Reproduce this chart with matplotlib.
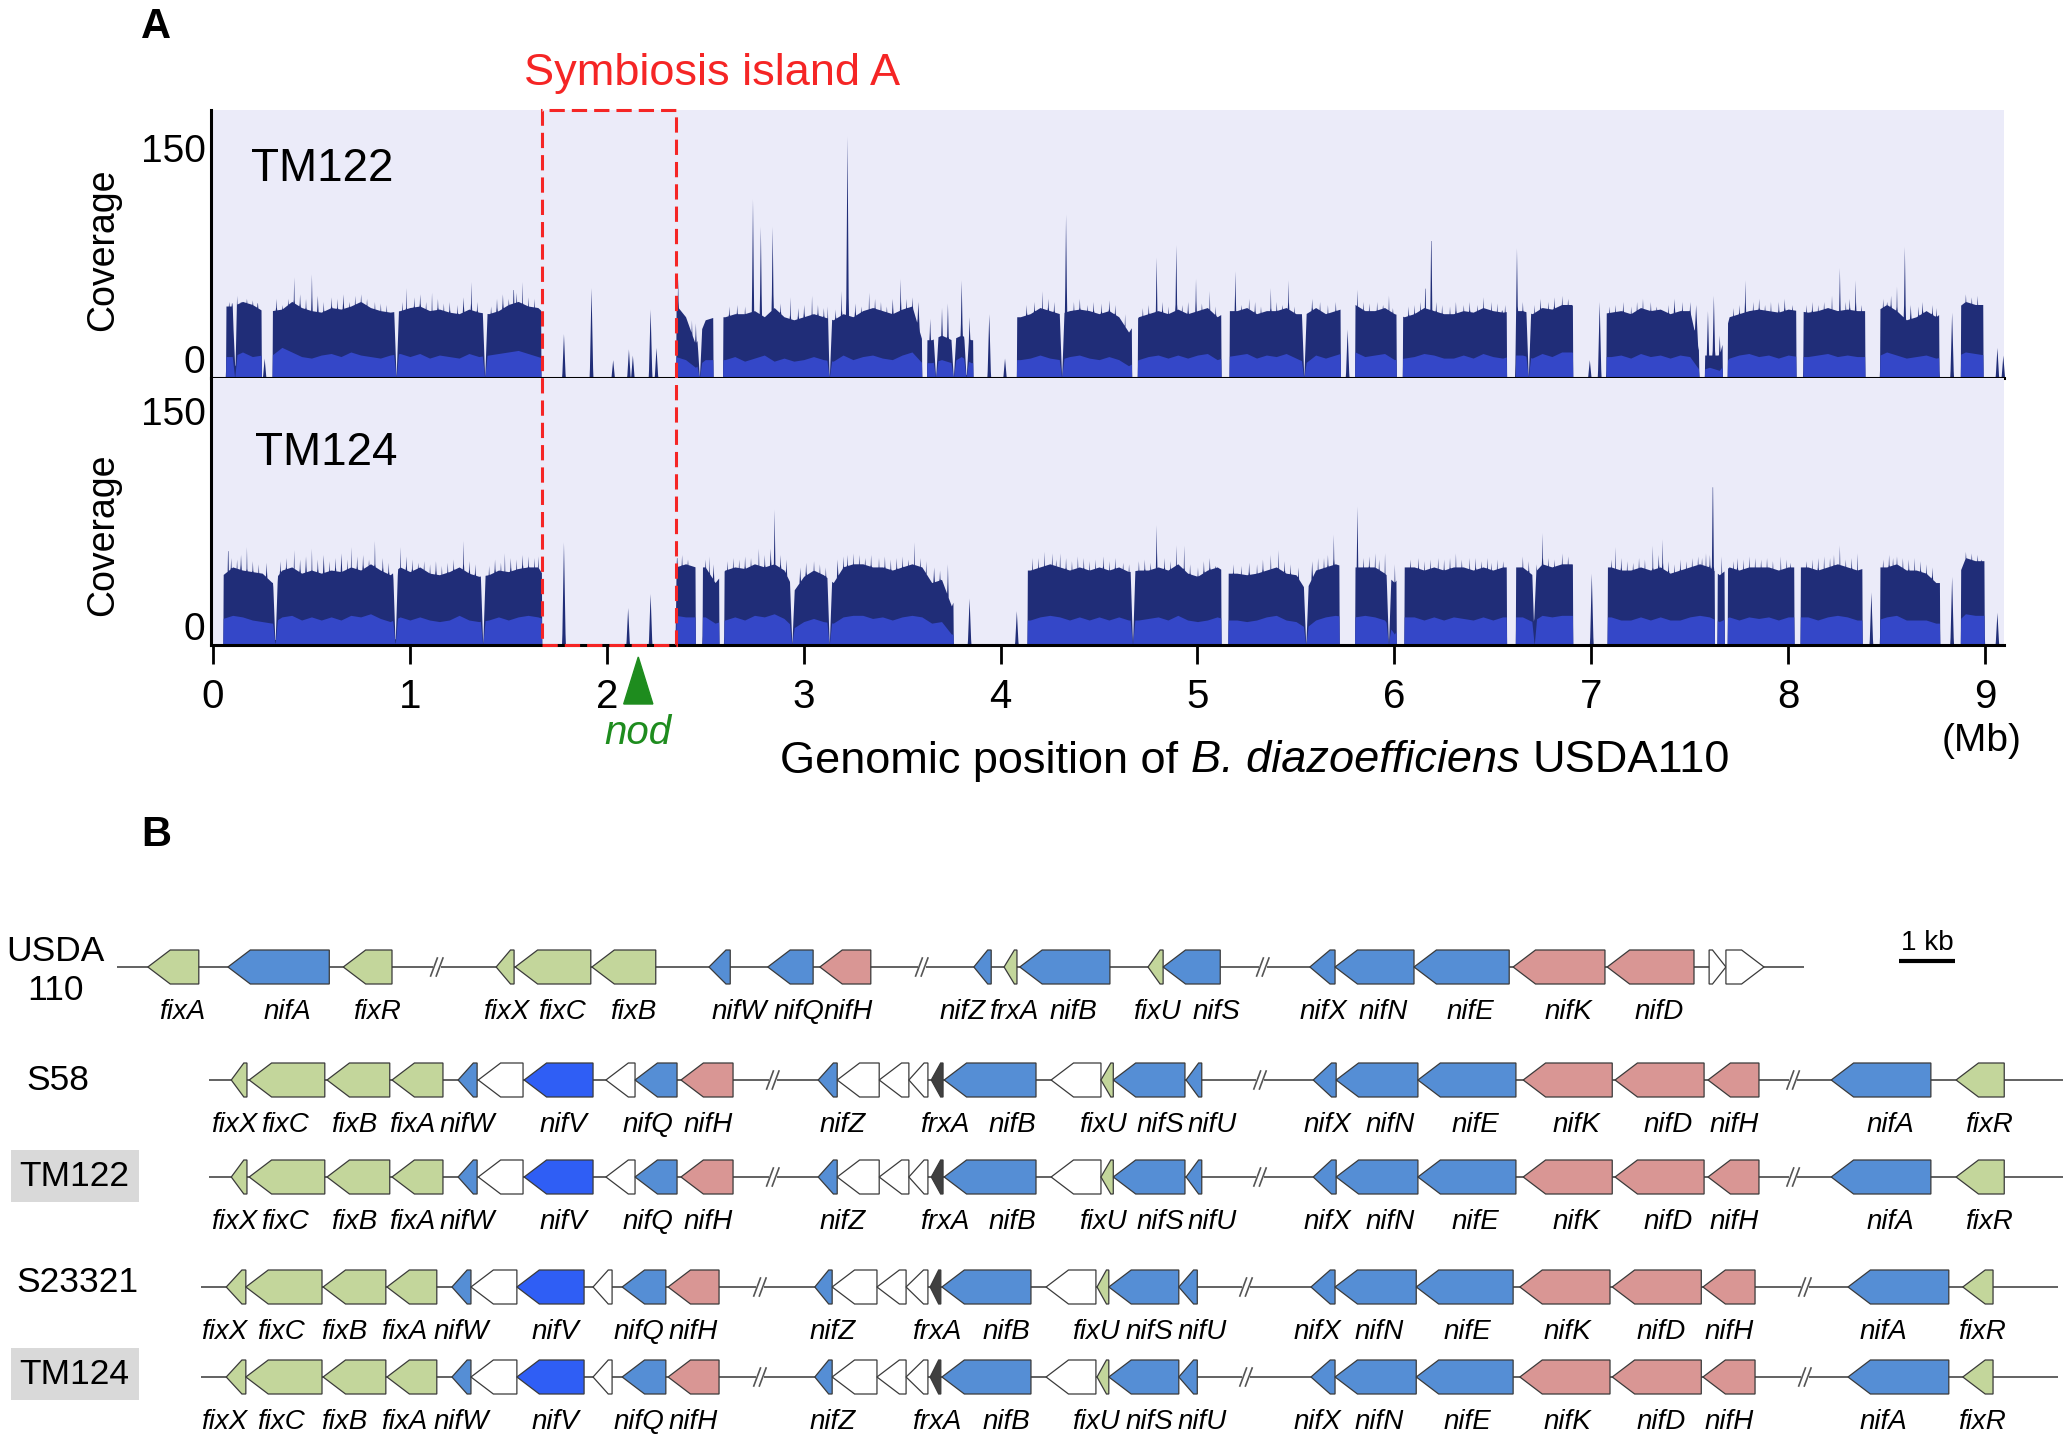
"""
Coverage of symbiosis island A + nif/fix gene clusters
"""

# IMPORTS

import numpy as np
import matplotlib
matplotlib.use("Agg")
import matplotlib.pyplot as plt
from matplotlib.patches import Polygon, Rectangle
from matplotlib.transforms import blended_transform_factory, ScaledTranslation

plt.rcParams['font.family'] = ['Liberation Sans', 'DejaVu Sans']


# DATA : PANEL A (coverage, Mb grid of 0.05)

GRID = np.round(np.arange(183) * 0.05, 2)

TM122_BASE = [
    47, 47, 47, 50, 48, 44, 44, 45, 50, 46, 44, 43, 46, 45, 47, 50, 46, 44, 43, 44,
    46, 47, 44, 45, 43, 42, 45, 43, 42, 44, 48, 50, 47, 46, 40, 40, 40, 40, 40, 40,
    40, 40, 40, 40, 40, 40, 40, 48, 40, 22, 38, 40, 40, 42, 42, 44, 40, 46, 40, 38,
    40, 42, 40, 38, 42, 40, 44, 46, 44, 42, 45, 47, 25, 25, 28, 25, 28, 25, 25, 25,
    40, 40, 40, 42, 46, 44, 42, 44, 45, 44, 42, 44, 40, 30, 40, 42, 44, 42, 45, 42,
    44, 46, 40, 44, 44, 46, 42, 44, 44, 46, 42, 42, 46, 42, 44, 46, 48, 44, 44, 46,
    42, 40, 42, 46, 44, 42, 42, 44, 43, 46, 44, 43, 44, 44, 42, 46, 45, 48, 48, 40,
    42, 42, 43, 44, 42, 46, 44, 45, 42, 44, 44, 15, 15, 15, 40, 42, 44, 45, 44, 43,
    45, 44, 43, 44, 46, 44, 45, 44, 44, 44, 48, 44, 38, 40, 44, 40, 45, 45, 50, 48,
    48, 48, 48,
]
TM122_INNER = [
    14, 14, 14, 17, 14, 15, 15, 20, 17, 14, 13, 15, 16, 14, 17, 15, 14, 13, 15, 16,
    14, 16, 13, 15, 14, 13, 16, 14, 15, 16, 17, 18, 16, 14, 12, 12, 12, 12, 12, 12,
    12, 12, 12, 12, 12, 12, 12, 14, 12, 7, 12, 12, 12, 14, 11, 13, 15, 11, 13, 11,
    12, 14, 12, 11, 15, 12, 14, 15, 13, 12, 15, 17, 10, 10, 12, 10, 14, 10, 10, 10,
    12, 12, 12, 13, 15, 13, 12, 14, 15, 13, 12, 14, 12, 8, 12, 14, 15, 13, 15, 13,
    15, 16, 12, 14, 15, 16, 13, 15, 14, 16, 13, 10, 15, 13, 15, 17, 17, 14, 15, 16,
    12, 13, 14, 16, 15, 13, 13, 15, 13, 16, 14, 13, 15, 15, 13, 16, 14, 17, 17, 14,
    14, 14, 14, 15, 13, 16, 14, 15, 13, 15, 14, 5, 7, 5, 13, 15, 16, 14, 15, 13,
    15, 14, 14, 15, 16, 14, 15, 14, 14, 14, 17, 15, 13, 14, 15, 13, 14, 14, 17, 16,
    15, 15, 15,
]
TM122_GAPS = [(-0.02, 0.064), (0.245, 0.30), (1.665, 2.35), (2.54, 2.59), (3.60, 3.625),
              (3.86, 4.08), (4.665, 4.695), (5.12, 5.16), (5.725, 5.80), (6.01, 6.04),
              (6.57, 6.615), (6.905, 7.075), (7.545, 7.575), (7.665, 7.69), (8.04, 8.075),
              (8.39, 8.465), (8.765, 8.875), (8.99, 9.2)]
TM122_DIPS = [0.11, 0.93, 1.38, 2.47, 3.13, 3.67, 3.76, 3.825, 4.31, 5.54, 6.68]
TM122_SPIKES = [(0.12, 54), (0.26, 13), (0.38, 52), (0.41, 66), (0.50, 68), (0.72, 54),
                (0.98, 59), (1.11, 56), (1.31, 63), (1.525, 65), (1.57, 63), (1.78, 29),
                (1.92, 59), (2.03, 12), (2.11, 19), (2.13, 15), (2.22, 45), (2.25, 20),
                (2.36, 65), (2.43, 38), (2.45, 36), (2.74, 117), (2.78, 99), (2.84, 99),
                (2.93, 53), (3.04, 54), (3.12, 47), (3.19, 57), (3.22, 158), (3.33, 56),
                (3.49, 65), (3.64, 39), (3.70, 46), (3.73, 49), (3.80, 64), (3.84, 40),
                (3.94, 42), (4.02, 13), (4.09, 35), (4.21, 57), (4.33, 107), (4.61, 38),
                (4.63, 42), (4.79, 79), (4.89, 87), (4.99, 65), (5.06, 57), (5.19, 70),
                (5.26, 52), (5.37, 59), (5.46, 64), (5.76, 32), (5.81, 58), (5.97, 54),
                (6.155, 66), (6.185, 101), (6.45, 53), (6.56, 48), (6.62, 85), (6.99, 12),
                (7.04, 50), (7.26, 52), (7.59, 44), (7.62, 54), (7.65, 28), (7.78, 64),
                (7.91, 50), (8.22, 54), (8.26, 72), (8.34, 64), (8.50, 50), (8.55, 60),
                (8.59, 86), (8.83, 43), (9.06, 20), (9.09, 15)]
TM122_PEAKS = [(0.08, 50), (0.095, 52), (0.14, 50), (0.17, 52), (0.20, 51), (0.225, 52),
               (0.32, 52), (0.35, 48), (0.44, 55), (0.47, 52), (0.53, 54), (0.56, 50),
               (0.60, 53), (0.63, 52), (0.66, 55), (0.69, 50), (0.75, 55), (0.78, 52),
               (0.82, 50), (0.85, 49), (0.88, 48), (0.96, 50), (1.02, 53), (1.05, 55),
               (1.08, 50), (1.14, 52), (1.17, 49), (1.20, 50), (1.24, 48), (1.27, 53),
               (1.34, 50), (1.41, 47), (1.44, 52), (1.47, 55), (1.50, 52), (1.54, 56),
               (1.60, 53), (1.63, 52), (2.62, 47), (2.66, 48), (2.70, 47), (2.88, 49),
               (2.97, 46), (3.00, 48), (3.07, 48), (3.10, 46), (3.16, 45), (3.26, 49),
               (3.29, 47), (3.36, 52), (3.39, 50), (3.42, 47), (3.45, 52), (3.52, 52),
               (3.55, 53), (3.58, 50), (4.13, 48), (4.17, 50), (4.24, 52), (4.27, 50),
               (4.37, 50), (4.40, 52), (4.44, 48), (4.47, 50), (4.51, 49), (4.55, 51),
               (4.58, 48), (4.72, 46), (4.75, 48), (4.82, 50), (4.85, 47), (4.92, 48),
               (4.95, 50), (5.02, 49), (5.09, 47), (5.22, 48), (5.29, 50), (5.32, 47),
               (5.40, 50), (5.43, 48), (5.49, 47), (5.58, 52), (5.62, 50), (5.66, 48),
               (5.70, 50), (5.84, 50), (5.87, 49), (5.91, 50), (5.94, 48), (5.99, 46),
               (6.07, 47), (6.10, 48), (6.13, 50), (6.21, 50), (6.24, 48), (6.28, 47),
               (6.31, 50), (6.35, 48), (6.38, 50), (6.42, 48), (6.49, 50), (6.52, 49),
               (6.545, 47), (6.65, 50), (6.71, 48), (6.74, 52), (6.78, 50), (6.81, 53),
               (6.85, 54), (6.88, 52), (7.09, 47), (7.12, 48), (7.16, 50), (7.20, 47),
               (7.23, 50), (7.30, 50), (7.33, 47), (7.39, 48), (7.42, 52), (7.46, 50),
               (7.50, 50), (7.53, 48), (7.72, 46), (7.75, 48), (7.82, 50), (7.85, 52),
               (7.88, 48), (7.95, 50), (7.98, 52), (8.02, 48), (8.09, 48), (8.12, 50),
               (8.15, 48), (8.18, 50), (8.29, 50), (8.31, 52), (8.37, 48), (8.48, 52),
               (8.52, 54), (8.62, 48), (8.66, 47), (8.68, 50), (8.73, 48), (8.75, 46),
               (8.90, 55), (8.93, 53), (8.96, 54)]

TM124_BASE = [
    45, 45, 50, 48, 47, 46, 40, 48, 50, 46, 48, 46, 48, 47, 50, 48, 52, 48, 45, 50,
    47, 50, 46, 45, 47, 50, 46, 44, 45, 48, 47, 49, 50, 50, 40, 40, 40, 40, 40, 40,
    40, 40, 40, 40, 40, 40, 40, 50, 52, 50, 50, 40, 48, 50, 49, 52, 50, 52, 48, 35,
    44, 48, 45, 40, 50, 52, 52, 50, 50, 48, 50, 52, 50, 40, 42, 25, 40, 40, 40, 40,
    40, 40, 48, 48, 50, 52, 50, 48, 50, 48, 50, 48, 50, 47, 48, 48, 50, 48, 52, 46,
    44, 48, 50, 46, 46, 45, 46, 48, 50, 46, 45, 35, 48, 50, 52, 50, 50, 50, 50, 46,
    40, 50, 50, 48, 50, 48, 50, 50, 48, 50, 48, 50, 50, 50, 45, 52, 50, 52, 52, 50,
    50, 50, 50, 48, 48, 50, 48, 50, 46, 48, 50, 52, 50, 45, 50, 48, 50, 50, 50, 48,
    50, 50, 50, 48, 50, 52, 50, 48, 50, 50, 50, 52, 48, 48, 46, 40, 40, 40, 56, 54,
    54, 54, 54,
]
TM124_INNER = [
    17, 17, 19, 18, 16, 15, 14, 18, 19, 16, 18, 16, 18, 16, 19, 18, 20, 17, 15, 18,
    16, 18, 16, 15, 16, 19, 16, 15, 16, 18, 16, 18, 19, 18, 16, 16, 16, 16, 16, 16,
    16, 16, 16, 16, 16, 16, 16, 19, 18, 18, 18, 14, 16, 18, 16, 19, 18, 20, 17, 11,
    15, 17, 15, 14, 18, 19, 19, 17, 18, 16, 18, 19, 18, 14, 15, 7, 7, 7, 7, 7,
    16, 16, 16, 16, 18, 19, 18, 16, 18, 16, 18, 16, 18, 16, 16, 17, 18, 16, 19, 16,
    15, 16, 18, 16, 16, 15, 16, 18, 19, 16, 15, 11, 16, 18, 19, 18, 18, 19, 18, 16,
    7, 18, 18, 16, 18, 16, 18, 17, 16, 18, 16, 18, 18, 18, 15, 19, 18, 19, 19, 18,
    18, 18, 18, 16, 16, 18, 16, 18, 16, 16, 18, 19, 18, 15, 18, 16, 18, 17, 18, 16,
    18, 18, 18, 16, 18, 19, 18, 16, 16, 16, 18, 19, 16, 16, 16, 14, 14, 14, 20, 19,
    19, 19, 19,
]
TM124_GAPS = [(-0.02, 0.05), (1.67, 2.35), (2.45, 2.485), (2.57, 2.595), (3.76, 4.135),
              (5.12, 5.155), (5.72, 5.80), (6.01, 6.05), (6.57, 6.615), (6.905, 7.08),
              (7.625, 7.64), (7.675, 7.69), (8.03, 8.06), (8.375, 8.465), (8.77, 8.875),
              (8.995, 9.2)]
TM124_DIPS = [0.315, 0.925, 1.37, 2.94, 3.13, 4.67, 5.55, 5.97, 6.71, 8.78]
TM124_SPIKES = [(0.075, 68), (0.17, 63), (0.41, 61), (0.50, 62), (0.70, 63), (0.82, 67),
                (0.95, 63), (1.07, 54), (1.27, 67), (1.48, 59), (1.65, 57), (1.78, 66),
                (2.106, 24), (2.22, 33), (2.355, 63), (2.52, 57), (2.77, 62), (2.85, 87),
                (3.05, 54), (3.25, 59), (3.56, 66), (3.62, 54), (3.73, 52), (3.84, 30),
                (4.08, 22), (4.16, 56), (4.22, 60), (4.26, 59), (4.30, 59), (4.39, 57),
                (4.62, 53), (4.79, 77), (4.89, 64), (4.93, 64), (5.09, 51), (5.37, 58),
                (5.41, 61), (5.61, 56), (5.69, 71), (5.81, 89), (5.90, 59), (5.95, 59),
                (6.00, 52), (6.22, 56), (6.31, 59), (6.38, 56), (6.52, 55), (6.65, 57),
                (6.75, 72), (6.85, 59), (7.00, 46), (7.12, 63), (7.31, 64), (7.36, 68),
                (7.51, 56), (7.58, 59), (7.615, 114), (7.66, 57), (7.80, 57), (7.96, 57),
                (8.18, 57), (8.26, 64), (8.35, 59), (8.42, 34), (8.55, 57), (8.64, 56),
                (8.83, 44), (9.06, 21)]
TM124_PEAKS = [(0.09, 56), (0.12, 55), (0.14, 58), (0.20, 54), (0.23, 52), (0.27, 53),
               (0.34, 54), (0.37, 56), (0.44, 55), (0.47, 57), (0.53, 55), (0.56, 58),
               (0.59, 54), (0.62, 56), (0.65, 59), (0.68, 55), (0.73, 57), (0.76, 58),
               (0.79, 55), (0.86, 56), (0.89, 53), (0.98, 57), (1.01, 55), (1.04, 53),
               (1.10, 52), (1.13, 54), (1.16, 51), (1.19, 53), (1.22, 55), (1.30, 54),
               (1.33, 52), (1.40, 51), (1.43, 55), (1.46, 53), (1.51, 56), (1.54, 55),
               (1.57, 58), (1.60, 57), (1.63, 56), (2.38, 58), (2.41, 55), (2.50, 55),
               (2.54, 52), (2.61, 54), (2.64, 56), (2.67, 55), (2.70, 57), (2.73, 56),
               (2.80, 58), (2.83, 62), (2.88, 58), (2.91, 55), (2.98, 50), (3.01, 53),
               (3.08, 52), (3.11, 50), (3.17, 55), (3.20, 57), (3.22, 58), (3.28, 58),
               (3.31, 56), (3.34, 58), (3.38, 56), (3.41, 57), (3.44, 55), (3.47, 56),
               (3.50, 57), (3.53, 55), (3.59, 56), (3.66, 50), (3.69, 48), (4.19, 56),
               (4.28, 55), (4.33, 56), (4.36, 54), (4.42, 56), (4.45, 54), (4.48, 55),
               (4.52, 57), (4.55, 54), (4.58, 56), (4.65, 52), (4.70, 54), (4.73, 55),
               (4.76, 53), (4.83, 56), (4.86, 54), (4.96, 52), (5.00, 50), (5.03, 54),
               (5.06, 56), (5.18, 52), (5.22, 51), (5.26, 53), (5.30, 52), (5.33, 55),
               (5.44, 54), (5.47, 52), (5.51, 50), (5.58, 54), (5.64, 56), (5.66, 58),
               (5.84, 56), (5.87, 57), (5.92, 55), (6.08, 55), (6.12, 56), (6.15, 54),
               (6.18, 55), (6.25, 55), (6.28, 56), (6.34, 55), (6.41, 56), (6.44, 54),
               (6.47, 56), (6.49, 53), (6.55, 54), (6.68, 54), (6.72, 52), (6.78, 56),
               (6.81, 55), (6.88, 57), (7.10, 55), (7.15, 56), (7.18, 54), (7.21, 53),
               (7.24, 56), (7.27, 55), (7.34, 58), (7.39, 54), (7.42, 52), (7.45, 55),
               (7.48, 54), (7.54, 57), (7.56, 56), (7.60, 58), (7.72, 54), (7.74, 56),
               (7.77, 55), (7.83, 56), (7.86, 55), (7.89, 56), (7.92, 54), (7.99, 55),
               (8.01, 53), (8.09, 54), (8.12, 55), (8.15, 56), (8.21, 56), (8.23, 58),
               (8.29, 55), (8.32, 56), (8.48, 55), (8.51, 58), (8.53, 56), (8.58, 56),
               (8.61, 55), (8.67, 54), (8.70, 52), (8.73, 50), (8.90, 60), (8.93, 59),
               (8.96, 58), (8.98, 55)]

ISLAND = (1.67, 2.35)
NOD_POS = 2.16


# DATA : PANEL B (genes in kb: name, start, end, kind[, strand])

USDA110 = [
    ('fixA', 2.64, 3.55, 'fix'), ('nifA', 4.07, 5.88, 'nif'), ('fixR', 6.13, 7.00, 'fix'),
    ('fixX', 8.86, 9.18, 'fix'), ('fixC', 9.20, 10.55, 'fix'), ('fixB', 10.57, 11.71, 'fix'),
    ('nifW', 12.66, 13.04, 'nif'), ('nifQ', 13.71, 14.52, 'nif'), ('nifH', 14.64, 15.55, 'hdk'),
    ('nifZ', 17.39, 17.70, 'nif'), ('frxA', 17.93, 18.16, 'fix'), ('nifB', 18.21, 19.82, 'nif'),
    ('fixU', 20.50, 20.77, 'fix'), ('nifS', 20.77, 21.79, 'nif'),
    ('nifX', 23.39, 23.84, 'nif'), ('nifN', 23.84, 25.25, 'nif'), ('nifE', 25.25, 26.95, 'nif'),
    ('nifK', 27.02, 28.66, 'hdk'), ('nifD', 28.70, 30.25, 'hdk'),
    ('', 30.52, 30.82, 'other', 1), ('', 30.82, 31.50, 'other', 1),
]
USDA110_LINE = (2.09, 32.21)
USDA110_BREAKS = [7.80, 16.46, 22.55]

S58 = [
    ('fixX', 4.13, 4.41, 'fix'), ('fixC', 4.45, 5.80, 'fix'), ('fixB', 5.84, 6.96, 'fix'),
    ('fixA', 7.00, 7.91, 'fix'), ('nifW', 8.18, 8.52, 'nif'), ('', 8.54, 9.34, 'other'),
    ('nifV', 9.36, 10.59, 'nifV'), ('', 10.82, 11.34, 'other'), ('nifQ', 11.34, 12.09, 'nif'),
    ('nifH', 12.16, 13.09, 'hdk'),
    ('nifZ', 14.61, 14.95, 'nif'), ('', 14.95, 15.70, 'other'), ('', 15.70, 16.23, 'other'),
    ('', 16.23, 16.57, 'other'), ('frxA', 16.63, 16.84, 'frxA'), ('nifB', 16.86, 18.50, 'nif'),
    ('', 18.77, 19.66, 'other'), ('fixU', 19.66, 19.88, 'fix'), ('nifS', 19.88, 21.16, 'nif'),
    ('nifU', 21.18, 21.46, 'nif'),
    ('nifX', 23.45, 23.86, 'nif'), ('nifN', 23.86, 25.32, 'nif'), ('nifE', 25.32, 27.07, 'nif'),
    ('nifK', 27.20, 28.79, 'hdk'), ('nifD', 28.84, 30.43, 'hdk'), ('nifH', 30.50, 31.41, 'hdk'),
    ('nifA', 32.70, 34.48, 'nif'), ('fixR', 34.93, 35.79, 'fix'),
]
S58_LINE = (3.73, 36.84)
S58_BREAKS = [13.80, 22.50, 32.02]

S23321 = [
    ('fixX', 4.04, 4.39, 'fix'), ('fixC', 4.39, 5.75, 'fix'), ('fixB', 5.77, 6.89, 'fix'),
    ('fixA', 6.91, 7.80, 'fix'), ('nifW', 8.07, 8.41, 'nif'), ('', 8.41, 9.23, 'other'),
    ('nifV', 9.23, 10.43, 'nifV'), ('', 10.59, 10.93, 'other'), ('nifQ', 11.11, 11.89, 'nif'),
    ('nifH', 11.93, 12.84, 'hdk'),
    ('nifZ', 14.55, 14.86, 'nif'), ('', 14.86, 15.66, 'other'), ('', 15.66, 16.18, 'other'),
    ('', 16.18, 16.57, 'other'), ('frxA', 16.61, 16.80, 'frxA'), ('nifB', 16.82, 18.41, 'nif'),
    ('', 18.68, 19.57, 'other'), ('fixU', 19.59, 19.80, 'fix'), ('nifS', 19.80, 21.05, 'nif'),
    ('nifU', 21.05, 21.38, 'nif'),
    ('nifX', 23.41, 23.84, 'nif'), ('nifN', 23.84, 25.29, 'nif'), ('nifE', 25.29, 27.02, 'nif'),
    ('nifK', 27.14, 28.75, 'hdk'), ('nifD', 28.79, 30.38, 'hdk'), ('nifH', 30.41, 31.34, 'hdk'),
    ('nifA', 33.00, 34.80, 'nif'), ('fixR', 35.05, 35.59, 'fix'),
]
S23321_LINE = (3.59, 36.75)
S23321_BREAKS = [13.57, 22.25, 32.23]


# STYLE / LAYOUT

W, H = 2072, 1443
NAVY = '#202d78'
LIGHT = '#3447c8'
BG = '#ebebf9'
RED = '#f52525'
GREEN = '#1e8c1e'
GENE_COLORS = {'fix': '#c3d69b', 'nif': '#558ed5', 'hdk': '#d99694',
               'nifV': '#2f5ef5', 'frxA': '#404040', 'other': 'white'}
SPIKE_W = 0.009
PEAK_W = 0.018
DIP_W = 0.012
KB_PX = 56.0
GENE_H = 34
HEAD = 0.4
LABEL_DX = 0.16
ROW_Y = [967, 1080, 1177, 1287, 1377]
ROW_LABEL_XY = [(55, 971), (58, 1081), (74, 1176), (77, 1283), (74, 1374)]
# label offsets (kb) from gene centre, per layout
NUDGE_USDA = {'nifW': 0.36, 'nifZ': -0.36, 'nifS': 0.45, 'fixX': 0.02, 'nifH': 0.05,
              'frxA': 0.05, 'fixU': 0.03, 'nifX': 0.02}
NUDGE_S58 = {'fixX': -0.09, 'fixC': -0.04, 'fixB': -0.07, 'fixA': -0.09, 'nifW': 0.0,
             'nifV': 0.09, 'nifQ': -0.14, 'nifH': 0.02, 'nifZ': 0.27, 'frxA': 0.14,
             'nifB': 0.39, 'fixU': -0.07, 'nifS': 0.21, 'nifU': 0.32, 'nifX': 0.04,
             'nifN': 0.23}
NUDGE_S23321 = {'fixX': -0.21, 'fixC': -0.05, 'fixB': -0.18, 'fixA': -0.14, 'nifW': 0.0,
                'nifV': 0.09, 'nifQ': -0.09, 'nifH': 0.0, 'nifZ': 0.16, 'frxA': 0.02,
                'nifB': 0.36, 'fixU': -0.12, 'nifS': 0.1, 'nifU': 0.25, 'nifX': -0.1,
                'nifN': 0.07, 'nifE': 0.05, 'nifK': 0.04, 'nifD': 0.07, 'nifA': -0.27,
                'fixR': 0.07}

ROWS = [
    ("USDA\n110", USDA110, USDA110_LINE, USDA110_BREAKS, False, NUDGE_USDA),
    ("S58", S58, S58_LINE, S58_BREAKS, False, NUDGE_S58),
    ("TM122", S58, S58_LINE, S58_BREAKS, True, NUDGE_S58),
    ("S23321", S23321, S23321_LINE, S23321_BREAKS, False, NUDGE_S23321),
    ("TM124", S23321, S23321_LINE, S23321_BREAKS, True, NUDGE_S23321),
]


def fx(px):
    return px / W


def fy(py):
    return 1 - py / H


# PROGRAM

fig = plt.figure(figsize=(W / 100, H / 100), dpi=100)

x_fine = np.arange(-0.01, 9.1, 0.002)


def build_profile(base, inner, gaps, dips, spikes, peaks):
    cov = np.interp(x_fine, GRID, base)
    low = np.minimum(np.interp(x_fine, GRID, inner), cov)
    for a, b in gaps:
        m = (x_fine >= a) & (x_fine <= b)
        cov[m] = 0
        low[m] = 0
    for d in dips:
        f = np.clip(np.abs(x_fine - d) / DIP_W, 0, 1)
        cov = cov * f
        low = low * f
    for pts, w in [(peaks, PEAK_W), (spikes, SPIKE_W)]:
        for p, h in pts:
            tri = h * np.clip(1 - np.abs(x_fine - p) / w, 0, None)
            cov = np.maximum(cov, tri)
    return cov, low


ax1 = fig.add_axes([fx(211), fy(378), fx(2004) - fx(211), (378 - 110) / H])
ax2 = fig.add_axes([fx(211), fy(645), fx(2004) - fx(211), (645 - 378) / H])

tracks = [
    (ax1, build_profile(TM122_BASE, TM122_INNER, TM122_GAPS, TM122_DIPS, TM122_SPIKES, TM122_PEAKS), 175),
    (ax2, build_profile(TM124_BASE, TM124_INNER, TM124_GAPS, TM124_DIPS, TM124_SPIKES, TM124_PEAKS), 171),
]
for ax, (cov, low), ytop in tracks:
    ax.set_facecolor(BG)
    ax.fill_between(x_fine, cov, color=NAVY, lw=0)
    ax.fill_between(x_fine, low, color=LIGHT, lw=0)
    ax.set_xlim(-0.01, 9.096)
    ax.set_ylim(0, ytop)
    for s in ['top', 'right']:
        ax.spines[s].set_visible(False)
    for s in ['left', 'bottom']:
        ax.spines[s].set_linewidth(2.2)
        ax.spines[s].set_color('black')
    ax.set_yticks([0, 150])
    ax.set_yticklabels(['0', '150'])
    ax.tick_params(axis='y', length=0, pad=4, labelsize=28)
    zero_lab = ax.get_yticklabels()[0]
    zero_lab.set_transform(zero_lab.get_transform() + ScaledTranslation(0, 0.19, fig.dpi_scale_trans))

ax1.set_xticks([])
ax2.set_xticks(range(10))
ax2.tick_params(axis='x', length=14, width=2, pad=10, labelsize=29, direction='out')

# coverage labels / strain names
for yy in [250, 535]:
    fig.text(fx(103), fy(yy), "Coverage", rotation=90, ha='center', va='center', fontsize=27)
fig.text(fx(251), fy(169), "TM122", ha='left', va='center', fontsize=33)
fig.text(fx(255), fy(453), "TM124", ha='left', va='center', fontsize=33)

# symbiosis island box
trans = blended_transform_factory(ax2.transData, fig.transFigure)
box = Rectangle((ISLAND[0], fy(645)), ISLAND[1] - ISLAND[0], (645 - 110) / H, transform=trans,
                fill=False, ec=RED, lw=2.2, ls=(0, (5, 2.3)), clip_on=False, zorder=6)
ax2.add_patch(box)
fig.text(fx(524), fy(73), "Symbiosis island A", color=RED, ha='left', va='center', fontsize=32.5)

# nod marker
tri = Polygon([(NOD_POS - 0.074, fy(704)), (NOD_POS + 0.074, fy(704)), (NOD_POS, fy(657))],
              closed=True, transform=trans, color=GREEN, clip_on=False, zorder=6)
ax2.add_patch(tri)
fig.text(fx(638), fy(733), "nod", color=GREEN, style='italic', ha='center', va='center', fontsize=29)

# x axis title, italic species name placed between the normal parts
renderer = fig.canvas.get_renderer()
parts = [("Genomic position of", 'normal'), ("B. diazoefficiens", 'italic'), ("USDA110", 'normal')]
title_texts = [fig.text(0, fy(761), s, style=st, ha='left', va='center', fontsize=32.5)
               for s, st in parts]
widths = [t.get_window_extent(renderer).width for t in title_texts]
space = 0.278 * 32.5 * 100 / 72
xpos = 1255 - (sum(widths) + 2 * space) / 2
for t, w in zip(title_texts, widths):
    t.set_x(fx(xpos))
    xpos += w + space

fig.text(fx(1982), fy(741), "(Mb)", ha='center', va='center', fontsize=28)

fig.text(fx(156), fy(27), "A", fontweight='bold', ha='center', va='center', fontsize=30)
fig.text(fx(156), fy(835), "B", fontweight='bold', ha='center', va='center', fontsize=30)


# PANEL B

axB = fig.add_axes([0, 0, 1, fy(860)])
axB.set_xlim(0, W / KB_PX)
axB.set_ylim(H, 860)
axB.axis('off')


def gene_poly(s, e, y, strand):
    h = GENE_H / 2
    head = min(HEAD, (e - s) * 0.8)
    if strand < 0:
        pts = [(s, y), (s + head, y - h), (e, y - h), (e, y + h), (s + head, y + h)]
    else:
        pts = [(e, y), (e - head, y - h), (s, y - h), (s, y + h), (e - head, y + h)]
    return pts


for i, (label, genes, line, breaks, boxed, nudge) in enumerate(ROWS):
    y = ROW_Y[i]
    # backbone with breaks
    edges = [line[0]]
    for b in breaks:
        edges += [b - 0.07, b + 0.07]
    edges.append(line[1])
    for a, b in zip(edges[::2], edges[1::2]):
        axB.plot([a, b], [y, y], color='#555555', lw=1.3, zorder=1, solid_capstyle='butt')
    for b in breaks:
        for off in (-0.05, 0.05):
            axB.plot([b + off - 0.06, b + off + 0.06], [y + 9, y - 9], color='#555555', lw=1.2, zorder=1)
    for g in genes:
        name, s, e, kind = g[:4]
        strand = g[4] if len(g) > 4 else -1
        axB.add_patch(Polygon(gene_poly(s, e, y, strand), closed=True, fc=GENE_COLORS[kind],
                              ec='#3a3a3a', lw=0.9, zorder=3))
        if name:
            axB.text((s + e) / 2 + nudge.get(name, LABEL_DX), y + 45, name, style='italic',
                     ha='center', va='center', fontsize=20)
    lx, ly = ROW_LABEL_XY[i]
    if boxed:
        fig.add_artist(Rectangle((fx(11), fy(ly + 26)), fx(139) - fx(11), 52 / H,
                                 transform=fig.transFigure, fc='#d9d9d9', ec='none', zorder=1))
    fig.text(fx(lx), fy(ly), label, ha='center', va='center', fontsize=25.5, linespacing=1.25, zorder=3)

# scale bar
axB.plot([1899 / KB_PX, 1899 / KB_PX + 1.0], [961, 961], color='black', lw=3, solid_capstyle='butt')
axB.text(1899 / KB_PX + 0.5, 943, "1 kb", ha='center', va='center', fontsize=20)

fig.savefig("out.png", dpi=100)
